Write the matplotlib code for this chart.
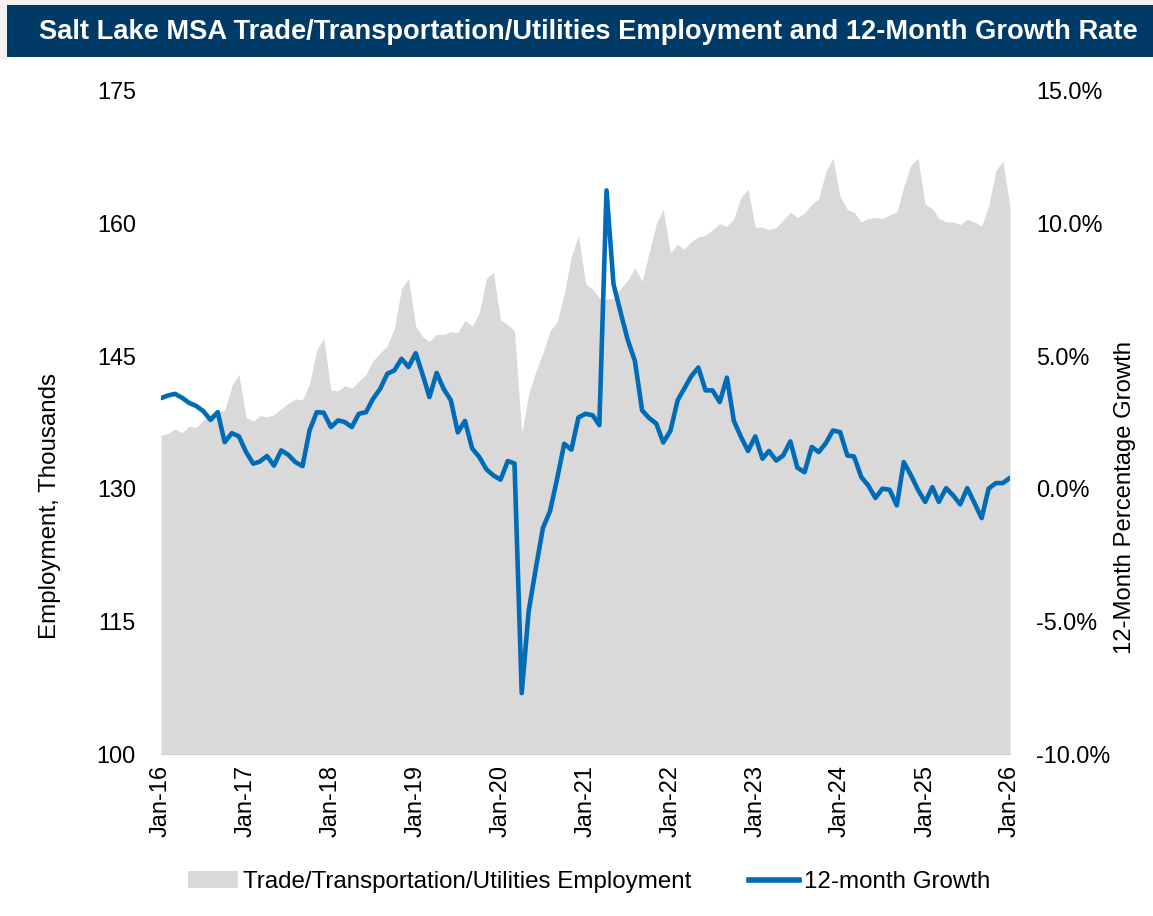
import numpy as np
import pandas as pd
import matplotlib
matplotlib.use("Agg")
import matplotlib.pyplot as plt
from matplotlib.patches import Patch, Rectangle
from matplotlib.lines import Line2D

plt.rcParams['font.family'] = ['Liberation Sans', 'DejaVu Sans']

# Monthly data, Jan-2016 .. Jan-2026
months = pd.date_range("2016-01-01", "2026-01-01", freq="MS")

employment = [
    136.0, 136.2, 136.7, 136.3, 137.0, 136.9, 137.7, 138.4, 138.6, 138.8, 141.6, 142.9,
    138.0, 137.6, 138.2, 138.1, 138.3, 139.0, 139.6, 140.1, 140.0, 141.8, 145.6, 147.0,
    141.1, 141.0, 141.6, 141.3, 142.1, 142.9, 144.4, 145.3, 146.1, 148.1, 152.6, 153.7,
    148.3, 147.1, 146.6, 147.4, 147.4, 147.7, 147.6, 149.0, 148.3, 149.8, 153.7, 154.4,
    149.0, 148.5, 147.8, 136.2, 140.7, 143.2, 145.3, 147.8, 148.8, 152.0, 156.2, 158.6,
    153.1, 152.5, 151.5, 151.4, 151.5, 152.6, 153.5, 154.9, 153.4, 156.6, 159.9, 161.5,
    156.6, 157.6, 157.0, 157.9, 158.4, 158.6, 159.2, 159.9, 159.6, 160.5, 162.9, 163.8,
    159.5, 159.5, 159.2, 159.5, 160.3, 161.2, 160.6, 161.1, 162.1, 162.7, 165.8, 167.3,
    163.0, 161.5, 161.2, 160.1, 160.5, 160.6, 160.5, 160.9, 161.2, 164.1, 166.5, 167.3,
    162.1, 161.6, 160.5, 160.1, 160.1, 159.8, 160.4, 160.1, 159.6, 161.9, 165.9, 167.0,
    161.8,
]

growth = [
    3.40, 3.50, 3.56, 3.41, 3.22, 3.10, 2.91, 2.58, 2.87, 1.74, 2.08, 1.96,
    1.37, 0.93, 1.01, 1.22, 0.86, 1.43, 1.27, 0.99, 0.84, 2.18, 2.87, 2.85,
    2.31, 2.56, 2.50, 2.31, 2.81, 2.87, 3.37, 3.75, 4.32, 4.44, 4.88, 4.57,
    5.09, 4.25, 3.44, 4.35, 3.75, 3.32, 2.11, 2.54, 1.50, 1.19, 0.72, 0.49,
    0.33, 1.03, 0.94, -7.71, -4.62, -3.00, -1.50, -0.85, 0.39, 1.68, 1.46, 2.67,
    2.81, 2.75, 2.38, 11.22, 7.69, 6.61, 5.60, 4.80, 2.94, 2.65, 2.44, 1.73,
    2.17, 3.32, 3.75, 4.23, 4.55, 3.69, 3.69, 3.25, 4.17, 2.54, 1.93, 1.41,
    1.96, 1.12, 1.41, 1.05, 1.24, 1.77, 0.78, 0.61, 1.56, 1.37, 1.71, 2.18,
    2.12, 1.24, 1.20, 0.43, 0.11, -0.36, -0.01, -0.05, -0.64, 0.99, 0.49, -0.05,
    -0.51, 0.05, -0.51, 0.01, -0.26, -0.60, 0.01, -0.55, -1.12, -0.01, 0.20, 0.20,
    0.40,
]

xtick_dates = pd.date_range("2016-01-01", "2026-01-01", freq="YS")
xtick_labels = ["Jan-16", "Jan-17", "Jan-18", "Jan-19", "Jan-20", "Jan-21",
                "Jan-22", "Jan-23", "Jan-24", "Jan-25", "Jan-26"]
left_ticks = [100, 115, 130, 145, 160, 175]
right_ticks = [-10, -5, 0, 5, 10, 15]

title = "Salt Lake MSA Trade/Transportation/Utilities Employment and 12-Month Growth Rate"
area_color = "#D9D9D9"
line_color = "#006BB6"
navy = "#003A66"

fig = plt.figure(figsize=(11.53, 9.16), dpi=100)
fig.patch.set_facecolor("white")

# title bar
fig.patches.append(Rectangle((0, 1 - 5 / 916), 1, 5 / 916, transform=fig.transFigure,
                             facecolor="#F2F2F2", edgecolor="none"))
fig.patches.append(Rectangle((0, 0.935), 7 / 1153, 0.065, transform=fig.transFigure,
                             facecolor="#F2F2F2", edgecolor="none"))
fig.patches.append(Rectangle((7 / 1153, 1 - 57 / 916), 1, 52 / 916, transform=fig.transFigure,
                             facecolor=navy, edgecolor="none"))
fig.text(0.510, 1 - 32 / 916, title, color="white", fontsize=19.6, fontweight="bold",
         ha="center", va="center")

ax = fig.add_axes([161 / 1153, 1 - 754 / 916, (1010 - 161) / 1153, (754 - 90) / 916])
ax.fill_between(months, employment, 100, color=area_color, linewidth=0)
ax.set_ylim(100, 175)
ax.set_xlim(months[0], months[-1])
ax.set_yticks(left_ticks)
ax.set_yticklabels([str(v) for v in left_ticks])
ax.set_xticks(xtick_dates)
ax.set_xticklabels(xtick_labels, rotation=90)
ax.tick_params(axis="y", length=0, pad=18, labelsize=16.8)
ax.tick_params(axis="x", length=0, pad=8, labelsize=17)
for s in ["top", "left", "right"]:
    ax.spines[s].set_visible(False)
ax.spines["bottom"].set_color("#D0D0D0")

ax2 = ax.twinx()
ax2.plot(months, growth, color=line_color, linewidth=3.3, solid_capstyle="round",
         solid_joinstyle="round")
ax2.set_ylim(-10, 15)
ax2.set_yticks(right_ticks)
ax2.set_yticklabels([f"{v:.1f}%" for v in right_ticks])
ax2.tick_params(axis="y", length=0, pad=19, labelsize=16.8)
for s in ["top", "left", "right", "bottom"]:
    ax2.spines[s].set_visible(False)

fig.text(0.043, 1 - 506 / 916, "Employment, Thousands", rotation=90, fontsize=17.4,
         ha="center", va="center")
fig.text(0.976, 1 - 498 / 916, "12-Month Percentage Growth", rotation=90, fontsize=17.2,
         ha="center", va="center")

handles = [Patch(facecolor=area_color, edgecolor="none"),
           Line2D([0], [0], color=line_color, linewidth=4)]
fig.legend(handles, ["Trade/Transportation/Utilities Employment", "12-month Growth"],
           loc="center", bbox_to_anchor=(0.511, 1 - 882 / 916), ncol=2, frameon=False,
           fontsize=17.4, handlelength=2.07, handletextpad=0.2, columnspacing=2.4)

fig.savefig("out.png", dpi=100)
